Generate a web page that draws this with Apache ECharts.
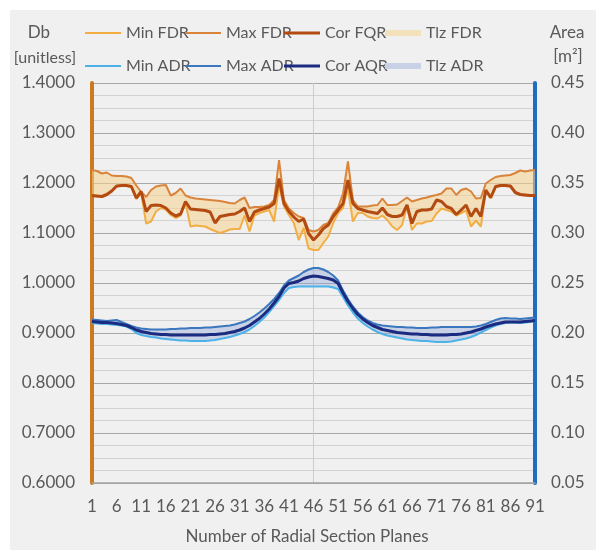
<!DOCTYPE html>
<html><head><meta charset="utf-8">
<script src="https://cdn.jsdelivr.net/npm/echarts@6/dist/echarts.min.js"></script>
<style>
html,body{margin:0;padding:0;background:#ffffff;}
#bg{position:absolute;left:10px;top:10px;width:586px;height:540px;background:#f0f0f0;}
#chart{position:absolute;left:0;top:0;width:596px;height:553px;}
</style></head><body>
<div id="bg"></div><div id="chart"></div>
<script>
const planes = ['1','2','3','4','5','6','7','8','9','10','11','12','13','14','15','16','17','18','19','20',
'21','22','23','24','25','26','27','28','29','30','31','32','33','34','35','36','37','38','39','40',
'41','42','43','44','45','46','47','48','49','50','51','52','53','54','55','56','57','58','59','60',
'61','62','63','64','65','66','67','68','69','70','71','72','73','74','75','76','77','78','79','80',
'81','82','83','84','85','86','87','88','89','90','91'];

const maxFDR = [1.226,1.224,1.219,1.221,1.215,1.214,1.214,1.213,1.210,1.195,
1.182,1.172,1.186,1.193,1.195,1.196,1.175,1.180,1.189,1.175,
1.171,1.169,1.168,1.167,1.166,1.165,1.164,1.162,1.160,1.159,
1.166,1.171,1.150,1.152,1.152,1.153,1.156,1.166,1.246,1.166,
1.149,1.140,1.133,1.130,1.106,1.103,1.106,1.116,1.120,1.139,
1.151,1.179,1.243,1.166,1.153,1.153,1.153,1.155,1.156,1.169,
1.156,1.156,1.157,1.164,1.171,1.163,1.166,1.169,1.171,1.174,
1.176,1.179,1.189,1.189,1.176,1.186,1.189,1.183,1.169,1.170,
1.199,1.206,1.212,1.214,1.215,1.216,1.220,1.225,1.223,1.225,1.226];

const corFQR = [1.175,1.174,1.173,1.177,1.184,1.194,1.195,1.195,1.193,1.170,
1.183,1.143,1.155,1.156,1.155,1.150,1.140,1.134,1.138,1.163,
1.148,1.147,1.146,1.145,1.142,1.120,1.133,1.135,1.137,1.138,
1.143,1.150,1.123,1.142,1.146,1.149,1.152,1.159,1.209,1.159,
1.143,1.132,1.123,1.128,1.099,1.086,1.096,1.109,1.116,1.133,
1.146,1.159,1.206,1.159,1.149,1.146,1.143,1.141,1.139,1.150,
1.137,1.133,1.133,1.136,1.156,1.119,1.143,1.146,1.146,1.148,
1.166,1.163,1.153,1.149,1.137,1.146,1.156,1.133,1.149,1.133,
1.186,1.171,1.193,1.195,1.195,1.194,1.181,1.177,1.176,1.175,1.175];

const minFDR = [1.174,1.173,1.172,1.176,1.183,1.193,1.194,1.194,1.192,1.168,
1.180,1.119,1.123,1.143,1.150,1.147,1.136,1.130,1.135,1.160,
1.113,1.115,1.114,1.113,1.108,1.104,1.100,1.103,1.107,1.108,
1.108,1.135,1.103,1.135,1.140,1.143,1.146,1.123,1.195,1.153,
1.136,1.120,1.086,1.110,1.069,1.066,1.066,1.080,1.093,1.120,
1.140,1.150,1.190,1.123,1.140,1.140,1.133,1.130,1.129,1.135,
1.126,1.113,1.106,1.116,1.153,1.106,1.119,1.119,1.123,1.124,
1.139,1.149,1.146,1.143,1.135,1.140,1.145,1.113,1.125,1.113,
1.183,1.169,1.192,1.194,1.194,1.193,1.180,1.176,1.175,1.174,1.174];

const maxADR = [0.927,0.926,0.925,0.924,0.925,0.926,0.922,0.918,0.914,0.911,
0.909,0.908,0.907,0.907,0.907,0.907,0.908,0.908,0.909,0.909,
0.910,0.910,0.910,0.911,0.911,0.912,0.913,0.914,0.915,0.917,
0.920,0.923,0.928,0.934,0.941,0.949,0.958,0.968,0.980,0.995,
1.005,1.010,1.015,1.022,1.027,1.030,1.030,1.027,1.022,1.015,
1.005,0.985,0.968,0.953,0.941,0.932,0.925,0.920,0.917,0.915,
0.914,0.913,0.912,0.912,0.911,0.911,0.910,0.910,0.910,0.911,
0.911,0.912,0.912,0.912,0.912,0.912,0.912,0.912,0.913,0.915,
0.918,0.922,0.926,0.929,0.930,0.929,0.929,0.928,0.929,0.930,0.931];

const corAQR = [0.923,0.922,0.921,0.921,0.920,0.919,0.917,0.915,0.911,0.906,
0.903,0.901,0.899,0.898,0.897,0.897,0.896,0.896,0.896,0.896,
0.896,0.896,0.896,0.896,0.897,0.897,0.898,0.899,0.901,0.903,
0.906,0.910,0.915,0.922,0.929,0.938,0.948,0.960,0.973,0.990,
0.999,1.001,1.004,1.009,1.012,1.014,1.013,1.011,1.009,1.006,
0.999,0.980,0.963,0.949,0.937,0.928,0.921,0.915,0.911,0.907,
0.905,0.903,0.901,0.900,0.899,0.898,0.898,0.897,0.897,0.896,
0.896,0.896,0.896,0.897,0.897,0.898,0.900,0.902,0.905,0.908,
0.912,0.915,0.918,0.920,0.922,0.922,0.922,0.922,0.923,0.924,0.925];

const minADR = [0.920,0.919,0.918,0.918,0.917,0.916,0.915,0.913,0.908,0.900,
0.896,0.894,0.892,0.891,0.889,0.888,0.887,0.886,0.885,0.885,
0.884,0.884,0.884,0.884,0.885,0.886,0.888,0.890,0.892,0.895,
0.898,0.902,0.907,0.914,0.922,0.931,0.942,0.954,0.966,0.980,
0.990,0.992,0.993,0.993,0.993,0.993,0.993,0.993,0.993,0.991,
0.988,0.972,0.955,0.941,0.929,0.920,0.913,0.907,0.902,0.898,
0.895,0.893,0.891,0.889,0.887,0.886,0.885,0.884,0.884,0.883,
0.882,0.882,0.882,0.883,0.885,0.887,0.889,0.892,0.896,0.901,
0.906,0.911,0.915,0.918,0.920,0.921,0.921,0.920,0.921,0.922,0.924];

const C = {
  minF:'#F2AE45', maxF:'#D9843A', corF:'#B24A12', tlzF:'rgba(245,210,140,0.55)', tlzFL:'#F2E1BA',
  minA:'#4DB2E8', maxA:'#3A77BE', corA:'#1A2B80', tlzA:'rgba(150,170,215,0.45)', tlzAL:'#C8D1E5',
  text:'#595959', font:'Lato', fs: 17, lfs: 16
};

const diff = (lo, hi) => hi.map((v, i) => +(v - lo[i]).toFixed(4));

function leg(name, left, top, color, h) {
  return {
    left: left, top: top, padding: 0, itemWidth: 36, itemHeight: h, itemGap: 0, selectedMode: false,
    textStyle: {fontSize: C.lfs, color: C.text, fontFamily: C.font, lineHeight: 18},
    data: [{name: name, icon: 'rect', itemStyle: {color: color, borderWidth: 0}}]
  };
}

const txt = (s, x, y, fs) => ({type: 'text', x: x, y: y, style: {text: s, fontSize: fs || C.fs, fill: C.text, fontFamily: C.font, align: 'center', verticalAlign: 'middle'}});

const chart = echarts.init(document.getElementById('chart'), null, {renderer: 'canvas'});
chart.setOption({
  backgroundColor: 'transparent',
  animation: false,
  textStyle: {fontFamily: C.font},
  grid: {left: 92, right: 61, top: 83, bottom: 70, containLabel: false, outerBoundsMode: 'none'},
  legend: [
    leg('Min FDR', 85, 24, C.minF, 2), leg('Max FDR', 185, 24, C.maxF, 2), leg('Cor FQR', 284, 24, C.corF, 3),
    leg('Tlz FDR', 385, 24, C.tlzFL, 6),
    leg('Min ADR', 85, 57, C.minA, 2), leg('Max ADR', 185, 57, C.maxA, 2), leg('Cor AQR', 284, 57, C.corA, 3),
    leg('Tlz ADR', 385, 57, C.tlzAL, 6)
  ],
  graphic: [
    txt('Db', 39, 33), txt('[unitless]', 45, 58, 16), txt('Area', 567, 33), txt('[m²]', 568, 57),
    txt('Number of Radial Section Planes', 307, 537)
  ],
  xAxis: {
    type: 'category', data: planes, boundaryGap: false,
    axisLine: {show: true, onZero: false, lineStyle: {color: '#a3a3a3', width: 1.5}},
    axisTick: {show: false},
    axisLabel: {interval: 4, margin: 15, fontSize: C.fs, color: C.text, fontFamily: C.font, hideOverlap: false},
    splitLine: {show: true, interval: (i) => i === 45, lineStyle: {color: '#cccccc', width: 1}}
  },
  yAxis: [
    {
      type: 'value', min: 0.6, max: 1.4, interval: 0.1, position: 'left',
      axisLine: {show: true, lineStyle: {color: '#CB7A22', width: 4}},
      axisTick: {show: false},
      axisLabel: {margin: 17, fontSize: C.fs, color: C.text, fontFamily: C.font, formatter: (v) => v.toFixed(4)},
      splitLine: {show: true, lineStyle: {color: '#a8a8a8', width: 1}},
      minorTick: {show: false, splitNumber: 4},
      minorSplitLine: {show: true, lineStyle: {color: '#d2d2d2', width: 1}}
    },
    {
      type: 'value', min: 0.05, max: 0.45, interval: 0.05, position: 'right',
      axisLine: {show: true, lineStyle: {color: '#1F6CC0', width: 4}},
      axisTick: {show: false},
      axisLabel: {margin: 16, fontSize: C.fs, color: C.text, fontFamily: C.font, formatter: (v) => v.toFixed(2)},
      splitLine: {show: false}
    }
  ],
  series: [
    {name: 'fdrBase', type: 'line', data: minFDR, stack: 'fdr', symbol: 'none', silent: true, lineStyle: {opacity: 0}, z: 1},
    {name: 'Tlz FDR', type: 'line', data: diff(minFDR, maxFDR), stack: 'fdr', symbol: 'none', silent: true, lineStyle: {opacity: 0}, itemStyle: {color: C.tlzFL}, areaStyle: {color: C.tlzF, opacity: 1}, z: 1},
    {name: 'adrBase', type: 'line', data: minADR, stack: 'adr', symbol: 'none', silent: true, lineStyle: {opacity: 0}, z: 1},
    {name: 'Tlz ADR', type: 'line', data: diff(minADR, maxADR), stack: 'adr', symbol: 'none', silent: true, lineStyle: {opacity: 0}, itemStyle: {color: C.tlzAL}, areaStyle: {color: C.tlzA, opacity: 1}, z: 1},
    {name: 'Min FDR', type: 'line', data: minFDR, symbol: 'none', lineStyle: {color: C.minF, width: 2}, itemStyle: {color: C.minF}, z: 3},
    {name: 'Max FDR', type: 'line', data: maxFDR, symbol: 'none', lineStyle: {color: C.maxF, width: 2}, itemStyle: {color: C.maxF}, z: 3},
    {name: 'Cor FQR', type: 'line', data: corFQR, symbol: 'none', lineStyle: {color: C.corF, width: 3}, itemStyle: {color: C.corF}, z: 4},
    {name: 'Min ADR', type: 'line', data: minADR, symbol: 'none', lineStyle: {color: C.minA, width: 2}, itemStyle: {color: C.minA}, z: 3},
    {name: 'Max ADR', type: 'line', data: maxADR, symbol: 'none', lineStyle: {color: C.maxA, width: 2}, itemStyle: {color: C.maxA}, z: 3},
    {name: 'Cor AQR', type: 'line', data: corAQR, symbol: 'none', lineStyle: {color: C.corA, width: 3}, itemStyle: {color: C.corA}, z: 4}
  ]
});
</script>
</body></html>
